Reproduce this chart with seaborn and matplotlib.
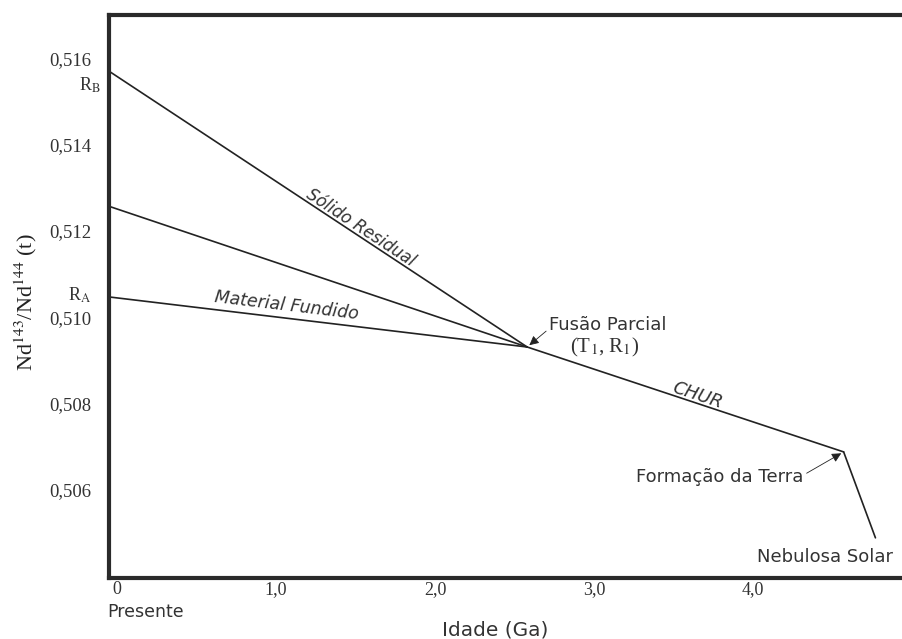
"""Nd143/Nd144 evolution diagram: CHUR, partial melting, residual solid and melt."""

import matplotlib
matplotlib.use("Agg")
import matplotlib.pyplot as plt
import seaborn as sns
import pandas as pd

# key points (age in Ga, Nd143/Nd144)
T1, R1 = 2.58, 0.50931          # fusao parcial
T_EARTH, R_EARTH = 4.57, 0.50688
T_NEB, R_NEB = 4.77, 0.50489
R_B = 0.5157                    # solido residual hoje
R_MID = 0.51257
R_A = 0.51047                   # material fundido hoje
T_START = -0.05

seg_names = ["Sólido Residual", "Intermediário", "Material Fundido", "CHUR", "Nebulosa"]
seg_x0 = [T_START, T_START, T_START, T1, T_EARTH]
seg_y0 = [R_B, R_MID, R_A, R1, R_EARTH]
seg_x1 = [T1, T1, T1, T_EARTH, T_NEB]
seg_y1 = [R1, R1, R1, R_EARTH, R_NEB]

xticks = [0, 1, 2, 3, 4]
xticklabels = ["0", "1,0", "2,0", "3,0", "4,0"]
yticks = [0.506, 0.508, 0.510, 0.512, 0.514, 0.516]
yticklabels = ["0,506", "0,508", "0,510", "0,512", "0,514", "0,516"]

sns.set_style("white")
plt.rcParams["mathtext.fontset"] = "stix"
SERIF = ["Liberation Serif", "DejaVu Serif"]
SANS = ["DejaVu Sans"]
TXT = "#333333"

rows = []
for name, x0, y0, x1, y1 in zip(seg_names, seg_x0, seg_y0, seg_x1, seg_y1):
    rows.append({"seg": name, "age": x0, "ratio": y0})
    rows.append({"seg": name, "age": x1, "ratio": y1})
df = pd.DataFrame(rows)

fig = plt.figure(figsize=(9.02, 6.39), dpi=100)
ax = fig.add_axes([0.1208, 0.0955, 0.8792, 0.881])

sns.lineplot(data=df, x="age", y="ratio", units="seg", estimator=None, sort=False,
             color="#222222", linewidth=1.2, ax=ax)

ax.set_xlim(T_START, 4.937)
ax.set_ylim(0.50396, 0.517)

ax.set_xticks(xticks)
ax.set_xticklabels(xticklabels, fontfamily=SERIF, fontsize=13, color=TXT)
ax.set_yticks(yticks)
ax.set_yticklabels(yticklabels, fontfamily=SERIF, fontsize=13.5, color=TXT)
ax.tick_params(axis="x", length=0, pad=2)
ax.tick_params(axis="y", length=0, pad=13)

for side in ["top", "left", "bottom"]:
    ax.spines[side].set_linewidth(3)
    ax.spines[side].set_color("#2a2a2a")
ax.spines["right"].set_visible(False)

ax.set_xlabel("")
ax.set_ylabel("")
fig.text(0.029, 1 - 302 / 639, r"Nd$^{143}$/Nd$^{144}$ (t)", fontfamily=SERIF,
         fontsize=16, color="#222222", rotation=90, ha="center", va="center")
fig.text(0.549, 1 - 630 / 639, "Idade (Ga)", fontfamily=SANS, fontsize=14.5, color=TXT,
         ha="center", va="center")
ax.annotate("Presente", xy=(0, 0), xycoords="axes fraction", xytext=(-1.5, -24.5),
            textcoords="offset points", fontfamily=SANS, fontsize=12.5, color=TXT,
            ha="left", va="center")

# R labels on the left of the axis
ax.annotate(r"R$_\mathrm{B}$", xy=(T_START, R_B), xytext=(-6, -10),
            textcoords="offset points", fontfamily=SERIF, fontsize=13, color=TXT,
            ha="right", va="center", annotation_clip=False)
ax.annotate(r"R$_\mathrm{A}$", xy=(T_START, R_A), xytext=(-13, 1),
            textcoords="offset points", fontfamily=SERIF, fontsize=13, color=TXT,
            ha="right", va="center", annotation_clip=False)

# line labels
ax.text(1.53, 0.51207, "Sólido Residual", rotation=-33.4, rotation_mode="anchor",
        fontfamily=SANS, fontsize=12, style="italic", color=TXT, ha="center", va="center")
ax.text(1.07, 0.51026, "Material Fundido", rotation=-6.8, rotation_mode="anchor",
        fontfamily=SANS, fontsize=12.5, style="italic", color=TXT, ha="center", va="center")
ax.text(3.65, 0.50818, "CHUR", rotation=-18.4, rotation_mode="anchor",
        fontfamily=SANS, fontsize=13, style="italic", color=TXT, ha="center", va="center")

arrow = dict(arrowstyle="-|>", color="#222222", lw=0.6, mutation_scale=14,
             shrinkA=0, shrinkB=2)
ax.annotate("Fusão Parcial", xy=(T1, R1), xytext=(16, 16), textcoords="offset points",
            fontfamily=SANS, fontsize=13, color=TXT, ha="left", va="center",
            arrowprops=dict(arrow, relpos=(0.0, 0.3)))
ax.annotate(r"(T$_1$, R$_1$)", xy=(T1, R1), xytext=(31, 0), textcoords="offset points",
            fontfamily=SERIF, fontsize=15, color=TXT, ha="left", va="center")
ax.annotate("Formação da Terra", xy=(T_EARTH, R_EARTH), xytext=(-29, -18),
            textcoords="offset points", fontfamily=SANS, fontsize=13, color=TXT,
            ha="right", va="center", arrowprops=dict(arrow, relpos=(1.0, 0.6)))
ax.annotate("Nebulosa Solar", xy=(T_NEB, R_NEB), xytext=(13, -14),
            textcoords="offset points", fontfamily=SANS, fontsize=13, color=TXT,
            ha="right", va="center")

fig.savefig("out.png", dpi=100)
